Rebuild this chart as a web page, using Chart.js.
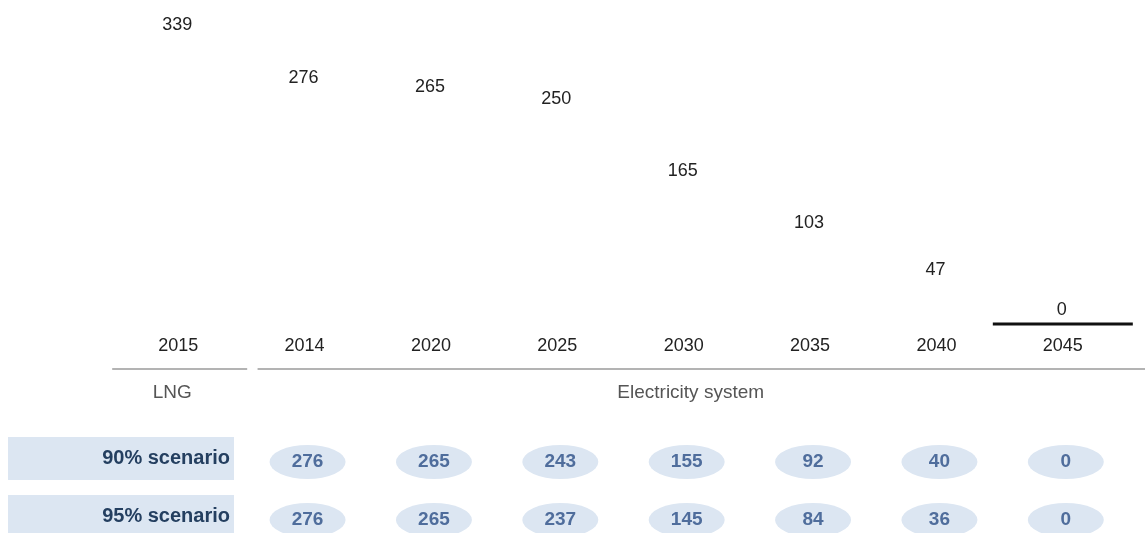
<!DOCTYPE html>
<html>
<head>
<meta charset="utf-8">
<script src="https://cdn.jsdelivr.net/npm/chart.js@4"></script>
<style>
  html, body { margin: 0; background: #fff; }
  #wrap { width: 1145px; height: 533px; }
</style>
</head>
<body>
<div id="wrap"><canvas id="myChart"></canvas></div>
<script>
// Datas
const years = ['2015', '2014', '2020', '2025', '2030', '2035', '2040', '2045'];
const emissions = [339, 276, 265, 250, 165, 103, 47, 0];
const groupNames = ['LNG', 'Electricity system'];
const groupFirst = [0, 1];          // first year index of each group
const scenarioNames = ['90% scenario', '95% scenario'];
const scenario90 = [276, 265, 243, 155, 92, 40, 0];   // 2014 .. 2045
const scenario95 = [276, 265, 237, 145, 84, 36, 0];

const scenarios = [scenario90, scenario95];
const FONT = '"Liberation Sans", Arial, sans-serif';

// labels, group rules and the scenario table
const decorations = {
    id: 'decorations',
    afterDraw(chart) {
        const ctx = chart.ctx;
        const x = chart.scales.x;
        const meta = chart.getDatasetMeta(0);
        ctx.save();

        // value above each (invisible) bar
        ctx.font = '18px ' + FONT;
        ctx.fillStyle = '#222';
        ctx.textAlign = 'center';
        ctx.textBaseline = 'middle';
        meta.data.forEach((bar, i) => {
            ctx.fillText(emissions[i], bar.x - 1, bar.y - 15);
            if (emissions[i] === 0) {
                ctx.strokeStyle = '#111';
                ctx.lineWidth = 3;
                ctx.beginPath();
                ctx.moveTo(bar.x - 70, bar.y - 1);
                ctx.lineTo(bar.x + 70, bar.y - 1);
                ctx.stroke();
            }
        });

        // group rules + names
        ctx.strokeStyle = '#9a9a9a';
        ctx.lineWidth = 1.5;
        const p0 = x.getPixelForValue(groupFirst[0]);
        const p1 = x.getPixelForValue(groupFirst[1]);
        const pLast = x.getPixelForValue(years.length - 1);
        ctx.beginPath();
        ctx.moveTo(p0 - 66, 369); ctx.lineTo(p0 + 69, 369);
        ctx.moveTo(p1 - 47, 369); ctx.lineTo(chart.width, 369);
        ctx.stroke();

        ctx.fillStyle = '#555';
        ctx.font = '19px ' + FONT;
        ctx.fillText(groupNames[0], p0 - 6, 393);
        ctx.fillText(groupNames[1], (p1 + pLast) / 2 + 7, 393);

        // scenario rows
        const rowY = [458, 516];
        scenarios.forEach((row, r) => {
            ctx.fillStyle = '#dce6f2';
            ctx.fillRect(8, rowY[r] - 21, 226, 43);
            ctx.fillStyle = '#243f60';
            ctx.font = 'bold 20px ' + FONT;
            ctx.textAlign = 'right';
            ctx.fillText(scenarioNames[r], 230, rowY[r]);

            ctx.textAlign = 'center';
            row.forEach((v, i) => {
                const cx = x.getPixelForValue(i + 1) + 3;
                const cy = rowY[r] + 4;
                ctx.fillStyle = '#dce6f2';
                ctx.beginPath();
                ctx.ellipse(cx, cy, 38, 17, 0, 0, Math.PI * 2);
                ctx.fill();
                ctx.fillStyle = '#4f6d9c';
                ctx.font = 'bold 19px ' + FONT;
                ctx.fillText(v, cx, cy);
            });
        });
        ctx.restore();
    }
};

// the chart
const myChart = new Chart('myChart', {
    type: 'bar',
    data: {
        labels: years,
        datasets: [{
            label: 'Emissions',
            data: emissions,
            backgroundColor: 'rgba(0,0,0,0)',
            categoryPercentage: 1,
            barPercentage: 1
        }]
    },
    options: {
        responsive: true,
        maintainAspectRatio: false,
        animation: false,
        layout: { padding: { left: 115, right: 19, top: 0, bottom: 0 } },
        plugins: {
            legend: { display: false },
            tooltip: { enabled: false }
        },
        scales: {
            x: {
                grid: { display: false, drawTicks: false },
                border: { display: false },
                ticks: { color: '#222', font: { family: FONT, size: 18 }, padding: 10 },
                afterFit(axis) { axis.height = 208; }
            },
            y: { display: false, min: 0, max: 386 }
        }
    },
    plugins: [decorations]
});
</script>
</body>
</html>
